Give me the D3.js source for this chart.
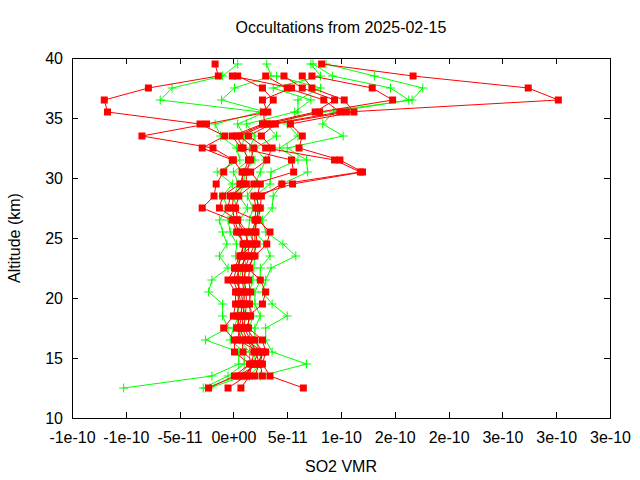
<!DOCTYPE html>
<html>
<head>
<meta charset="utf-8">
<script src="https://cdn.jsdelivr.net/npm/d3@7"></script>
<style>
  html, body { margin: 0; padding: 0; background: #fff; }
  svg { display: block; }
  text { font-family: "Liberation Sans", Arial, sans-serif; }
</style>
</head>
<body>
<svg id="chart" width="640" height="480"></svg>
<script>
// ---- DATA ----
const titleText = "Occultations from 2025-02-15";
const xLabelText = "SO2 VMR";
const yLabelText = "Altitude (km)";

// SO2 VMR values are listed in units of 1e-11
const VMR_UNIT = 1e-11;

// altitude levels (km), top to bottom
const altitudes = [39.5, 38.5, 37.5, 36.5, 35.5, 34.5, 33.5, 32.5, 31.5, 30.5,
  29.5, 28.5, 27.5, 26.5, 25.5, 24.5, 23.5, 22.5, 21.5, 20.5,
  19.5, 18.5, 17.5, 16.5, 15.5, 14.5, 13.5, 12.5];

// green profiles (plus markers)
const greenProfiles = [
  [0.4, -1.0, -5.7, -6.8, 2.5, -1.7, -1.2, 0.3, 0.6, -1.5, -0.1, -1.0, -0.5, -1.3, -1.0, -0.6, -1.3, -0.5, -2.0, -2.3, -1.0, -1.0, -0.5, -2.6, 0.5, 0.5, -2.0, -10.2],
  [3.1, 3.5, 0.1, -1.1, 3.0, 0.4, 1.0, 0.8, 1.5, 0.0, 0.5, 0.0, 0.3, -0.5, -0.3, 0.3, 0.2, 0.8, 0.5, 0.5, 0.5, 0.5, 0.0, -0.3, 1.0, 1.0, -0.5, -2.8],
  [7.2, 8.1, 3.7, 7.2, 5.7, 1.2, 2.0, 1.5, 2.0, 1.0, 1.0, 0.5, 1.3, 0.6, 0.5, 1.0, 1.0, 1.2, 1.0, 1.0, 0.8, 1.2, 0.8, 0.6, 1.5, 1.5, 0.5, -2.6],
  [7.4, 9.2, 14.6, 16.3, 9.3, 8.3, 10.2, 5.0, 6.8, 6.9, 4.5, 3.7, 3.6, 2.7, 3.0, 4.6, 5.8, 3.5, 3.0, 2.7, 3.6, 5.0, 3.0, 3.0, 3.6, 6.8, 2.5, null],
  [8.6, 13.1, 17.6, 16.6, 8.3, 3.0, 4.0, 2.0, 3.0, 2.5, 2.0, 1.3, 1.8, 1.5, 1.4, 2.0, 2.0, 1.9, 1.8, 1.5, 1.5, 1.8, 1.5, 1.5, 2.0, 2.0, 1.0, -2.2],
  [null, 4.0, 8.1, 6.0, 6.0, 5.0, 6.0, 4.3, 6.0, 3.5, 3.4, 2.0, 2.5, 2.0, 2.0, 3.0, 3.4, 2.5, 2.5, 2.0, 2.0, 2.5, 2.0, 2.0, 2.5, 2.5, 1.5, null]
];

// red profiles (square markers)
const redProfiles = [
  [-1.7, -1.4, -7.9, -12.0, -11.7, -3.1, -0.8, -2.9, -0.1, -0.9, -1.6, -1.8, -2.9, -0.1, 0.3, 1.0, 0.6, 0.1, -0.5, 0.2, 0.2, 0.0, -0.9, 0.1, 0.1, 1.5, 0.1, -2.3],
  [null, 0.4, 2.7, 3.7, 2.8, 2.9, 0.3, 0.9, 1.4, 1.0, 0.6, -1.0, -1.3, 0.3, 1.0, 1.5, 1.3, 0.6, 0.2, 0.7, 0.9, 0.6, 0.3, 0.8, 0.9, 2.1, 0.8, null],
  [null, 3.0, 5.0, 8.4, 9.9, 3.5, 1.4, 3.0, 9.4, 11.8, 4.5, 2.6, 2.5, 2.3, 3.4, 3.1, 2.0, 1.3, 2.5, 3.0, 2.7, 1.4, 1.4, 2.7, 3.0, 2.7, 3.4, 6.5],
  [null, -0.1, 5.4, 2.7, 3.2, -2.5, -8.5, -1.9, 0.0, 0.8, 0.9, 0.0, -0.1, 0.1, 0.5, 0.9, 0.8, 0.3, 0.0, 0.4, 0.5, 0.3, 0.6, 0.4, 2.4, 1.8, 1.2, -0.5],
  [null, 6.4, 7.3, 10.3, 11.2, 5.3, 6.4, 6.1, 9.9, 12.0, 5.5, 1.9, 2.1, 2.0, 2.1, 2.2, 1.8, 1.5, 1.4, 1.6, 1.5, 1.6, 1.2, 2.0, 2.7, 2.5, 2.7, null],
  [8.2, 16.7, 27.4, 30.2, 10.5, 3.9, 2.6, 3.6, 3.1, 1.6, 2.5, 2.2, 2.3, 2.2, 2.0, 2.0, 1.5, 1.1, 1.0, 1.2, 1.2, 1.1, 1.0, 1.6, 2.1, 2.4, 2.0, null],
  [null, 4.7, 6.4, 9.4, 7.6, 2.7, -0.1, 0.7, 5.4, 5.6, 1.9, 0.5, 0.2, 0.4, 1.3, 1.2, 1.0, 0.9, 0.8, 1.0, 1.0, 0.9, 0.8, 1.3, 1.9, 1.7, 1.5, 0.7],
  [null, 7.3, 12.9, 14.8, 8.0, 3.2, 0.6, 1.9, 1.6, 1.2, 1.2, -0.3, -0.5, 2.1, 1.7, 1.8, 0.7, 0.4, 0.5, 0.5, 0.7, 0.8, 0.5, 1.1, 2.8, 2.2, 0.5, null]
];

const xTickValues = [-1.5e-10, -1e-10, -5e-11, 0, 5e-11, 1e-10, 1.5e-10, 2e-10, 2.5e-10, 3e-10, 3.5e-10];
const xTickLabels = ["-1e-10", "-1e-10", "-5e-11", "0e+00", "5e-11", "1e-10", "2e-10", "2e-10", "3e-10", "3e-10", "3e-10"];
const yTickValues = [10, 15, 20, 25, 30, 35, 40];
const yTickLabels = ["10", "15", "20", "25", "30", "35", "40"];

// ---- LAYOUT ----
const plot = { left: 72, right: 610, top: 58, bottom: 418 };
const FONT = 16;
const svg = d3.select("#chart");

const x = d3.scaleLinear().domain([-1.5e-10, 3.5e-10]).range([plot.left, plot.right]);
const y = d3.scaleLinear().domain([10, 40]).range([plot.bottom, plot.top]);

// axes (gnuplot style: inward ticks, mirrored)
function styleAxis(g) {
  g.select(".domain").remove();
  g.selectAll("line").attr("stroke", "#000").attr("shape-rendering", "crispEdges");
  g.selectAll("text").attr("font-size", FONT).attr("fill", "#000")
    .attr("font-family", "Liberation Sans, Arial, sans-serif");
}

svg.append("g").attr("transform", `translate(0,${plot.bottom})`)
  .call(d3.axisBottom(x).tickValues(xTickValues).tickFormat((d, i) => xTickLabels[i])
    .tickSize(-6).tickSizeOuter(0).tickPadding(14))
  .call(styleAxis);
svg.append("g").attr("transform", `translate(0,${plot.top})`)
  .call(d3.axisTop(x).tickValues(xTickValues).tickFormat("").tickSize(-6).tickSizeOuter(0))
  .call(styleAxis);
svg.append("g").attr("transform", `translate(${plot.left},0)`)
  .call(d3.axisLeft(y).tickValues(yTickValues).tickFormat((d, i) => yTickLabels[i])
    .tickSize(-6).tickSizeOuter(0).tickPadding(9))
  .call(styleAxis);
svg.append("g").attr("transform", `translate(${plot.right},0)`)
  .call(d3.axisRight(y).tickValues(yTickValues).tickFormat("").tickSize(-6).tickSizeOuter(0))
  .call(styleAxis);

// data
const line = d3.line()
  .defined(d => d.v !== null)
  .x(d => x(d.v * VMR_UNIT))
  .y(d => y(d.alt));

function toPoints(arr) { return arr.map((v, i) => ({ v: v, alt: altitudes[i] })); }

const gGreen = svg.append("g");
greenProfiles.forEach(p => {
  const pts = toPoints(p);
  gGreen.append("path").attr("d", line(pts)).attr("fill", "none")
    .attr("stroke", "#00ff00").attr("stroke-width", 1);
  gGreen.selectAll(null).data(pts.filter(d => d.v !== null)).enter()
    .append("path")
    .attr("transform", d => `translate(${x(d.v * VMR_UNIT)},${y(d.alt)})`)
    .attr("d", "M-4.5,0H4.5M0,-4.5V4.5")
    .attr("stroke", "#00ff00").attr("stroke-width", 1).attr("fill", "none");
});

const gRed = svg.append("g");
redProfiles.forEach(p => {
  const pts = toPoints(p);
  gRed.append("path").attr("d", line(pts)).attr("fill", "none")
    .attr("stroke", "#ff0000").attr("stroke-width", 1);
  gRed.selectAll(null).data(pts.filter(d => d.v !== null)).enter()
    .append("rect")
    .attr("x", d => x(d.v * VMR_UNIT) - 3.5)
    .attr("y", d => y(d.alt) - 3.5)
    .attr("width", 7).attr("height", 7)
    .attr("fill", "#ff0000");
});

// frame
svg.append("rect")
  .attr("x", plot.left).attr("y", plot.top)
  .attr("width", plot.right - plot.left).attr("height", plot.bottom - plot.top)
  .attr("fill", "none").attr("stroke", "#000").attr("stroke-width", 1)
  .attr("shape-rendering", "crispEdges");

// titles
svg.append("text").attr("x", (plot.left + plot.right) / 2).attr("y", 33)
  .attr("text-anchor", "middle").attr("font-size", FONT).text(titleText);
svg.append("text").attr("x", (plot.left + plot.right) / 2).attr("y", 472)
  .attr("text-anchor", "middle").attr("font-size", FONT).text(xLabelText);
svg.append("text").attr("transform", `translate(20,${(plot.top + plot.bottom) / 2}) rotate(-90)`)
  .attr("text-anchor", "middle").attr("font-size", FONT).text(yLabelText);
</script>
</body>
</html>
